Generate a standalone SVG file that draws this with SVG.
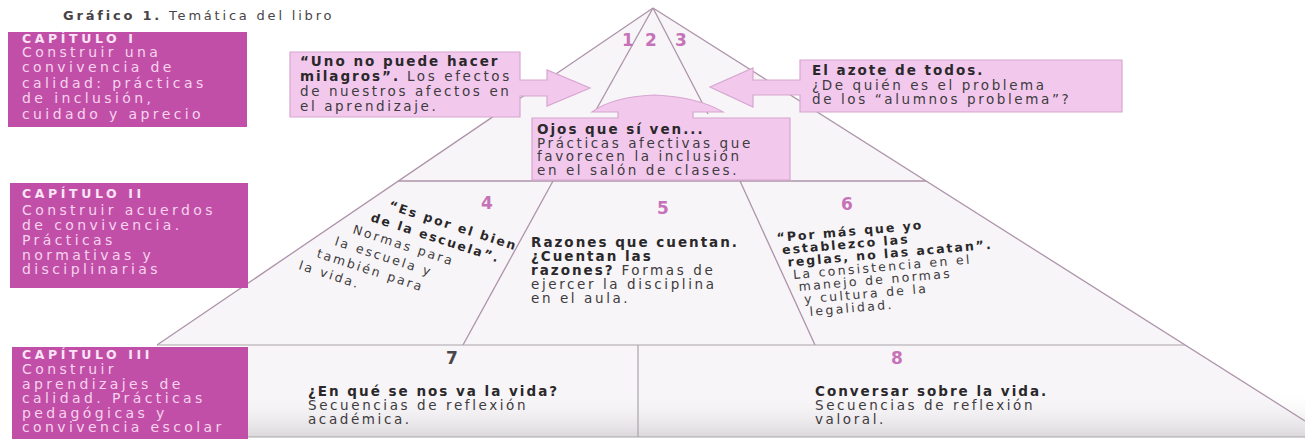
<svg xmlns="http://www.w3.org/2000/svg" width="1305" height="439" viewBox="0 0 1305 439">
<defs>
<style>
text{font-family:"DejaVu Sans","Open Sans",sans-serif}
.title{font-size:13px;letter-spacing:2.8px;fill:#474447}
.cap{font-size:12.5px;font-weight:bold;letter-spacing:3.6px;fill:#fbe4f6}
.cx{font-size:14px;letter-spacing:3.4px;fill:#f6d3ee}
.capbox{fill:#c24fa7}
.callout{fill:#f2c9ed;stroke:#d7a6d0;stroke-width:1.2}
.r{font-size:13.5px;letter-spacing:2.6px;fill:#3e3b3e}
.b{font-weight:bold;letter-spacing:2px;fill:#2a282a}
.s{font-size:12.5px;letter-spacing:2.3px;fill:#3e3b3e}
.num{font-size:17px;font-weight:bold;fill:#c672b9;text-anchor:middle}
.edge{stroke:#ad93a9;stroke-width:1.3;fill:none}
.grey{stroke:#aaa3a9;stroke-width:1.2;fill:none}
</style>
<linearGradient id="shade" x1="0" y1="0" x2="0" y2="1">
<stop offset="0" stop-color="#ffffff" stop-opacity="0"/>
<stop offset="1" stop-color="#cfcbcf" stop-opacity="0.7"/>
</linearGradient>
</defs>
<rect width="1305" height="439" fill="#ffffff"/>
<g id="pyramid">
<polygon points="653,8 1305,421 1305,437 248,437 248,345 157,345" fill="#f7f5f7"/>
<rect x="248" y="390" width="1057" height="47" fill="url(#shade)"/>
</g>
<g id="connectors">
<line class="edge" x1="653" y1="8" x2="157" y2="345"/>
<line class="edge" x1="653" y1="8" x2="1305" y2="421"/>
<line class="edge" x1="653" y1="8" x2="596" y2="110"/>
<line class="edge" x1="653" y1="8" x2="708" y2="114"/>
<line class="edge" x1="398" y1="181" x2="926" y2="181"/>
<line class="edge" x1="553" y1="181" x2="463" y2="345"/>
<line class="edge" x1="740" y1="181" x2="815" y2="345"/>
<line class="grey" x1="157" y1="345" x2="1185" y2="345"/>
<line class="grey" x1="638" y1="345" x2="638" y2="437"/>
<line class="grey" x1="248" y1="437" x2="1305" y2="437"/>
</g>
<g id="title">
<text class="title" x="63" y="20"><tspan font-weight="bold">Gráfico 1.</tspan> Temática del libro</text>
</g>
<g id="capitulo1">
<rect class="capbox" x="8" y="32" width="239" height="95"/>
<text class="cap" x="22" y="43">CAPÍTULO I</text>
<text class="cx" x="22" y="57">Construir una</text>
<text class="cx" x="22" y="72">convivencia de</text>
<text class="cx" x="22" y="87.5">calidad: prácticas</text>
<text class="cx" x="22" y="103">de inclusión,</text>
<text class="cx" x="22" y="118.5">cuidado y aprecio</text>
</g>
<g id="capitulo2">
<rect class="capbox" x="10" y="183" width="238" height="105"/>
<text class="cap" x="22" y="198">CAPÍTULO II</text>
<text class="cx" x="22" y="215">Construir acuerdos</text>
<text class="cx" x="22" y="230">de convivencia.</text>
<text class="cx" x="22" y="245">Prácticas</text>
<text class="cx" x="22" y="259.5">normativas y</text>
<text class="cx" x="22" y="274">disciplinarias</text>
</g>
<g id="capitulo3">
<rect class="capbox" x="12" y="347" width="236" height="92"/>
<text class="cap" x="22" y="359">CAPÍTULO III</text>
<text class="cx" x="22" y="374">Construir</text>
<text class="cx" x="22" y="388.5">aprendizajes de</text>
<text class="cx" x="22" y="403">calidad. Prácticas</text>
<text class="cx" x="22" y="417.5">pedagógicas y</text>
<text class="cx" x="22" y="432">convivencia escolar</text>
</g>
<g id="tema1">
<path class="callout" d="M290,52 H520 V80 H547 V70 L590,88 L547,106 V96 H520 V117 H290 Z"/>
<text class="r" x="300" y="66"><tspan class="b">“Uno no puede hacer</tspan></text>
<text class="r" x="300" y="81"><tspan class="b">milagros”.</tspan> Los efectos</text>
<text class="r" x="300" y="96">de nuestros afectos en</text>
<text class="r" x="300" y="111">el aprendizaje.</text>
</g>
<g id="tema3">
<path class="callout" d="M1122,60 V112 H800 V95 H753 V107 L710,87 L753,68 V80 H800 V60 Z"/>
<text class="r" x="812" y="75"><tspan class="b">El azote de todos.</tspan></text>
<text class="r" x="812" y="90">¿De quién es el problema</text>
<text class="r" x="812" y="104">de los “alumnos problema”?</text>
</g>
<g id="tema2">
<path class="callout" d="M532,118 H618 V112 H592 Q612,97 654,95 Q698,97 723,112 H693 V118 H790 V180 H532 Z"/>
<text class="r" x="537" y="134"><tspan class="b">Ojos que sí ven...</tspan></text>
<text class="r" x="537" y="147.5">Prácticas afectivas que</text>
<text class="r" x="537" y="161">favorecen la inclusión</text>
<text class="r" x="537" y="174.5">en el salón de clases.</text>
</g>
<g id="numeros-123">
<text class="num" x="628" y="46">1</text>
<text class="num" x="651" y="46">2</text>
<text class="num" x="681" y="46">3</text>
</g>
<g id="tema4">
<text class="num" x="487" y="209">4</text>
<text class="s" x="388" y="209" transform="rotate(18 388 209)"><tspan class="b">“Es por el bien</tspan></text>
<text class="s" x="370" y="221" transform="rotate(18 370 221)"><tspan class="b">de la escuela”.</tspan></text>
<text class="s" x="352" y="233" transform="rotate(18 352 233)">Normas para</text>
<text class="s" x="334" y="245" transform="rotate(18 334 245)">la escuela y</text>
<text class="s" x="316" y="257" transform="rotate(18 316 257)">también para</text>
<text class="s" x="298" y="269" transform="rotate(18 298 269)">la vida.</text>
</g>
<g id="tema5">
<text class="num" x="663" y="214">5</text>
<text class="r" x="531" y="247"><tspan class="b">Razones que cuentan.</tspan></text>
<text class="r" x="531" y="261"><tspan class="b">¿Cuentan las</tspan></text>
<text class="r" x="531" y="275"><tspan class="b">razones?</tspan> Formas de</text>
<text class="r" x="531" y="289">ejercer la disciplina</text>
<text class="r" x="531" y="303">en el aula.</text>
</g>
<g id="tema6">
<text class="num" x="847" y="210">6</text>
<text class="s" x="777" y="242" transform="rotate(-5 777 242)"><tspan class="b">“Por más que yo</tspan></text>
<text class="s" x="782.5" y="254.3" transform="rotate(-5 782.5 254.3)"><tspan class="b">establezco las</tspan></text>
<text class="s" x="788" y="266.6" transform="rotate(-5 788 266.6)"><tspan class="b">reglas, no las acatan”.</tspan></text>
<text class="s" x="793.5" y="279" transform="rotate(-5 793.5 279)">La consistencia en el</text>
<text class="s" x="799" y="291" transform="rotate(-5 799 291)">manejo de normas</text>
<text class="s" x="804.5" y="303.5" transform="rotate(-5 804.5 303.5)">y cultura de la</text>
<text class="s" x="810" y="316" transform="rotate(-5 810 316)">legalidad.</text>
</g>
<g id="tema7">
<text class="num" x="452" y="364" style="fill:#4a474a">7</text>
<text class="r" x="308" y="396"><tspan class="b">¿En qué se nos va la vida?</tspan></text>
<text class="r" x="308" y="410">Secuencias de reflexión</text>
<text class="r" x="308" y="423.5">académica.</text>
</g>
<g id="tema8">
<text class="num" x="897" y="364">8</text>
<text class="r" x="815" y="396"><tspan class="b">Conversar sobre la vida.</tspan></text>
<text class="r" x="815" y="410">Secuencias de reflexión</text>
<text class="r" x="815" y="423.5">valoral.</text>
</g>
</svg>
